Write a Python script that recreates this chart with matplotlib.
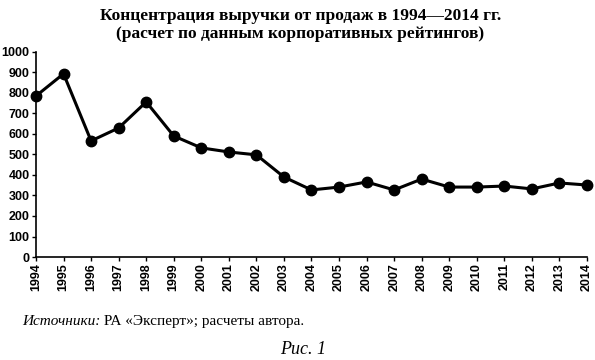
import matplotlib
matplotlib.use("Agg")
import matplotlib.pyplot as plt

years = list(range(1994, 2015))
values = [785, 893, 566, 629, 756, 590, 532, 512, 498, 390, 327,
          341, 366, 327, 380, 341, 341, 346, 332, 361, 351]
yticks = list(range(0, 1001, 100))

fig = plt.figure(figsize=(5.95, 3.6), dpi=100)
ax = fig.add_axes([0.0605, 0.286, 0.926, 0.570])

ax.plot(years, values, color='black', lw=2.2, marker='o', ms=7.5,
        clip_on=False, zorder=3)

ax.set_xlim(1994, 2014)
ax.set_ylim(0, 1000)
ax.set_xticks(years)
ax.set_xticklabels([str(y) for y in years], rotation=90,
                   fontsize=9, fontweight='bold', family='Liberation Sans')
ax.set_yticks(yticks)
ax.set_yticklabels([str(v) for v in yticks], fontsize=9, fontweight='bold',
                   family='Liberation Sans')
ax.tick_params(axis='both', direction='out', length=3, width=1, pad=1.5, colors='black')
for s in ['top', 'right']:
    ax.spines[s].set_visible(False)
for s in ['left', 'bottom']:
    ax.spines[s].set_linewidth(1.2)

# title, two lines
fig.text(0.505, 0.955, 'Концентрация выручки от продаж в 1994—2014 гг.',
         ha='center', va='center', fontsize=12.5, fontweight='bold',
         family='Liberation Serif')
fig.text(0.505, 0.905, '(расчет по данным корпоративных рейтингов)',
         ha='center', va='center', fontsize=12.5, fontweight='bold',
         family='Liberation Serif')

# source note: italic label followed by regular text
src = fig.text(0.037, 0.097, 'Источники:', ha='left', va='baseline', fontsize=11,
               style='italic', family='Liberation Serif')
ax.annotate(' РА «Эксперт»; расчеты автора.', xy=(1, 0), xycoords=src,
            ha='left', va='bottom', fontsize=11, family='Liberation Serif',
            annotation_clip=False)
fig.text(0.51, 0.03, 'Рис. 1', ha='center', va='center', fontsize=13,
         style='italic', family='Liberation Serif')

fig.savefig('out.png', dpi=100)
